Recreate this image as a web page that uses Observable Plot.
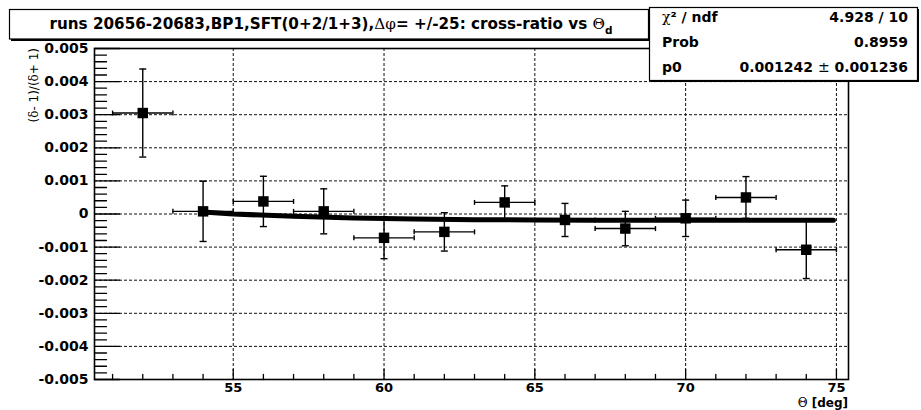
<!DOCTYPE html>
<html>
<head>
<meta charset="utf-8">
<script src="https://cdn.jsdelivr.net/npm/d3@7"></script>
<script src="https://cdn.jsdelivr.net/npm/@observablehq/plot@0.6"></script>
<style>
  body { margin: 0; background: #fff; }
  svg text { white-space: pre; }
</style>
</head>
<body>
<div id="chart"></div>
<script>
// Cross-ratio per 2-degree Θ bin
const theta = [52, 54, 56, 58, 60, 62, 64, 66, 68, 70, 72, 74];
const ratio = [0.00305, 0.00008, 0.00038, 0.00008, -0.00072, -0.00054, 0.00035, -0.00018, -0.00044, -0.00013, 0.0005, -0.00108];
const ratioErr = [0.00133, 0.00091, 0.00076, 0.00068, 0.00063, 0.00058, 0.0005, 0.0005, 0.00052, 0.00055, 0.00063, 0.00087];
const thetaHalfWidth = 1;

// Fitted curve
const fitTheta = [54, 55, 57, 59, 61, 63, 65, 67, 69, 71, 73, 74.9];
const fitRatio = [0.00006, 0.0, -0.00007, -0.00012, -0.00015, -0.00017, -0.00018, -0.00019, -0.00019, -0.00019, -0.00019, -0.00019];

// Axes
const yTicks = [0.005, 0.004, 0.003, 0.002, 0.001, 0, -0.001, -0.002, -0.003, -0.004, -0.005];
const yTickLabels = ["0.005", "0.004", "0.003", "0.002", "0.001", "0", "-0.001", "-0.002", "-0.003", "-0.004", "-0.005"];
const xTicks = [55, 60, 65, 70, 75];
const xTickLabels = ["55", "60", "65", "70", "75"];
const xDomain = [50.4, 75.4];
const yDomain = [-0.005, 0.005];

// Texts
const titleText = "runs 20656-20683,BP1,SFT(0+2/1+3),Δφ= +/-25: cross-ratio vs Θ";
const titleSub = "d";
const yLabel = "(δ- 1)/(δ+ 1)";
const xLabel = "Θ [deg]";
const statNames = ["χ² / ndf", "Prob", "p0"];
const statValues = ["4.928 / 10", "0.8959", "0.001242 ± 0.001236"];

const points = theta.map((t, i) => ({theta: t, ratio: ratio[i], err: ratioErr[i]}));
const fit = fitTheta.map((t, i) => ({theta: t, ratio: fitRatio[i]}));

const yMinor = d3.range(-25, 26).filter(i => i % 5 !== 0).map(i => i * 2 / 10000);
const xMinor = d3.range(51, 76).filter(v => !xTicks.includes(v));

// Straight tick shape for vector marks
const tickShape = {draw(context, l) { context.moveTo(0, 0); context.lineTo(0, -l); }};
// Error-bar end caps
const capH = {draw(context, size) { const r = Math.sqrt(size / Math.PI); context.moveTo(-r, 0); context.lineTo(r, 0); }};
const capV = {draw(context, size) { const r = Math.sqrt(size / Math.PI); context.moveTo(0, -r); context.lineTo(0, r); }};

const gridStyle = {stroke: "#111", strokeOpacity: 1, strokeWidth: 1, strokeDasharray: "3,2"};
const inner = yTicks.filter(v => v > yDomain[0] && v < yDomain[1]);

const chart = Plot.plot({
  width: 921,
  height: 410,
  marginLeft: 94,
  marginRight: 73,
  marginTop: 48,
  marginBottom: 31,
  x: {domain: xDomain},
  y: {domain: yDomain},
  style: {fontFamily: "DejaVu Sans", background: "#fff", color: "#000"},
  marks: [
    Plot.gridY(inner, gridStyle),
    Plot.gridX(xTicks.filter(v => v < xDomain[1]), gridStyle),
    // inward ticks
    Plot.vector(yTicks, {y: d => d, frameAnchor: "left", rotate: 90, length: 25, anchor: "start", shape: tickShape, stroke: "#000", strokeWidth: 1.3}),
    Plot.vector(yMinor, {y: d => d, frameAnchor: "left", rotate: 90, length: 12, anchor: "start", shape: tickShape, stroke: "#000", strokeWidth: 1.3}),
    Plot.vector(xTicks, {x: d => d, frameAnchor: "bottom", rotate: 0, length: 10, anchor: "start", shape: tickShape, stroke: "#000", strokeWidth: 1.3}),
    Plot.vector(xMinor, {x: d => d, frameAnchor: "bottom", rotate: 0, length: 5, anchor: "start", shape: tickShape, stroke: "#000", strokeWidth: 1.3}),
    Plot.axisY({ticks: yTicks, tickSize: 0, tickPadding: 6, tickFormat: d => yTickLabels[yTicks.indexOf(d)], fontSize: 14, fontWeight: "bold", fill: "#000", label: null}),
    Plot.axisX({ticks: xTicks, tickSize: 0, tickPadding: 3, tickFormat: d => xTickLabels[xTicks.indexOf(d)], fontSize: 13, fontWeight: "bold", fill: "#000", label: null}),
    Plot.frame({stroke: "#000", strokeWidth: 1.6}),
    // error bars
    Plot.ruleX(points, {x: "theta", y1: d => d.ratio - d.err, y2: d => d.ratio + d.err, stroke: "#000", strokeWidth: 1.4}),
    Plot.ruleY(points, {y: "ratio", x1: d => d.theta - thetaHalfWidth, x2: d => d.theta + thetaHalfWidth, stroke: "#000", strokeWidth: 1.4}),
    Plot.dot(points, {x: "theta", y: d => d.ratio + d.err, symbol: capH, r: 3.5, stroke: "#000", strokeWidth: 1.4}),
    Plot.dot(points, {x: "theta", y: d => d.ratio - d.err, symbol: capH, r: 3.5, stroke: "#000", strokeWidth: 1.4}),
    Plot.dot(points, {x: d => d.theta - thetaHalfWidth, y: "ratio", symbol: capV, r: 2.5, stroke: "#000", strokeWidth: 1.4}),
    Plot.dot(points, {x: d => d.theta + thetaHalfWidth, y: "ratio", symbol: capV, r: 2.5, stroke: "#000", strokeWidth: 1.4}),
    // fit
    Plot.line(fit, {x: "theta", y: "ratio", stroke: "#000", strokeWidth: 5}),
    // markers
    Plot.dot(points, {x: "theta", y: "ratio", symbol: "square", r: 5.9, fill: "#000"})
  ]
});

document.getElementById("chart").appendChild(chart);

// Rich text: symbol characters in a serif face
const symbolChars = /[ΔφΘχδ±]/;
function addRich(textSel, str) {
  const runs = [];
  let run = "", sym = null;
  for (const ch of str) {
    const s = symbolChars.test(ch);
    if (sym === null || s === sym) { run += ch; sym = s; }
    else { runs.push([run, sym]); run = ch; sym = s; }
  }
  if (run) runs.push([run, sym]);
  for (const [t, s] of runs) {
    const ts = textSel.append("tspan").text(t);
    if (s) ts.attr("font-family", "DejaVu Serif").attr("font-weight", "normal");
  }
  return textSel;
}

const svg = d3.select(chart);
const ann = svg.append("g").attr("font-family", "DejaVu Sans").attr("fill", "#000").attr("text-anchor", "start");

// Title box
ann.append("rect").attr("x", 11).attr("y", 11).attr("width", 640).attr("height", 30).attr("fill", "#000");
ann.append("rect").attr("x", 9.5).attr("y", 9.5).attr("width", 639).attr("height", 29.5)
  .attr("fill", "#fff").attr("stroke", "#000").attr("stroke-width", 1.2);
const title = ann.append("text").attr("x", 331).attr("y", 29).attr("text-anchor", "middle")
  .attr("font-size", 15.2).attr("font-weight", "bold");
addRich(title, titleText);
title.append("tspan").attr("dy", 5).attr("font-size", 10.5).text(titleSub);

// Statistics box
const sx = 649, sy = 7, sw = 268, sh = 73;
ann.append("rect").attr("x", sx + 2).attr("y", sy + 2).attr("width", sw).attr("height", sh).attr("fill", "#000");
ann.append("rect").attr("x", sx + 0.5).attr("y", sy + 0.5).attr("width", sw).attr("height", sh)
  .attr("fill", "#fff").attr("stroke", "#000").attr("stroke-width", 1.2);
statNames.forEach((name, i) => {
  const by = 22 + i * 25;
  addRich(ann.append("text").attr("x", 662).attr("y", by).attr("text-anchor", "start").attr("font-size", 14).attr("font-weight", "bold"), name);
  addRich(ann.append("text").attr("x", 908).attr("y", by).attr("text-anchor", "end").attr("font-size", 14).attr("font-weight", "bold"), statValues[i]);
});

// Axis titles
addRich(ann.append("text").attr("transform", "translate(38,48) rotate(-90)").attr("text-anchor", "end")
  .attr("font-size", 12), yLabel);
addRich(ann.append("text").attr("x", 848).attr("y", 407).attr("text-anchor", "end")
  .attr("font-size", 12).attr("font-weight", "bold"), xLabel);
</script>
</body>
</html>
